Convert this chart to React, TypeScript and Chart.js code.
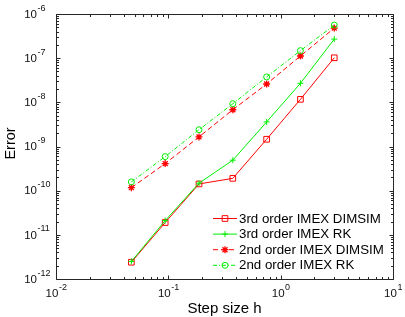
import React, { useEffect, useRef } from "react";
import { Chart, registerables } from "chart.js";
import { drawPoint } from "chart.js/helpers";

Chart.register(...registerables);

// ---- data ----
const stepSizes = [0.046875, 0.09375, 0.1875, 0.375, 0.75, 1.5, 3];
const dimsim3 = [2.4e-12, 1.9e-11, 1.42e-10, 1.9e-10, 1.46e-9, 1.17e-8, 1.02e-7];
const rk3 = [2.5e-12, 2.1e-11, 1.48e-10, 4.9e-10, 3.6e-9, 2.7e-8, 2.7e-7];
const dimsim2 = [1.17e-10, 4.1e-10, 1.65e-9, 6.8e-9, 2.6e-8, 1.12e-7, 4.8e-7];
const rk2 = [1.58e-10, 5.9e-10, 2.4e-9, 9.3e-9, 3.76e-8, 1.48e-7, 5.6e-7];
const seriesLabels = [
  "3rd order IMEX DIMSIM",
  "3rd order IMEX RK",
  "2nd order IMEX DIMSIM",
  "2nd order IMEX RK",
];
const xDecades = [-2, -1, 0, 1];
const yDecades = [-12, -11, -10, -9, -8, -7, -6];
const xTitle = "Step size h";
const yTitle = "Error";

const FONT = '"Liberation Sans", Arial, Helvetica, sans-serif';
const RED = "#ff0000";
const GREEN = "#00ee00";
const AXIS = "#262626";

const toPoints = (ys: number[]) => stepSizes.map((x, i) => ({ x, y: ys[i] }));

const framePlugin = {
  id: "matlabFrame",
  afterDraw(chart: any) {
    const ctx: CanvasRenderingContext2D = chart.ctx;
    const { left, right, top, bottom } = chart.chartArea;
    const xs = chart.scales.x;
    const ys = chart.scales.y;
    const L = Math.round(left) + 0.5;
    const R = Math.round(right) + 0.5;
    const T = Math.round(top) + 0.5;
    const B = Math.round(bottom) + 0.5;
    ctx.save();
    ctx.strokeStyle = AXIS;
    ctx.lineWidth = 1;
    ctx.setLineDash([]);
    ctx.beginPath();
    ctx.rect(L, T, R - L, B - T);
    const majorLen = 4;
    const minorLen = 2.5;
    const xMax = Math.pow(10, xDecades[xDecades.length - 1]);
    for (let d = xDecades[0]; d <= xDecades[xDecades.length - 1]; d++) {
      for (let m = 1; m <= 9; m++) {
        const v = m * Math.pow(10, d);
        if (v > xMax * 1.0001) break;
        const px = Math.round(xs.getPixelForValue(v)) + 0.5;
        const len = m === 1 ? majorLen : minorLen;
        ctx.moveTo(px, B);
        ctx.lineTo(px, B - len);
        ctx.moveTo(px, T);
        ctx.lineTo(px, T + len);
      }
    }
    const yMax = Math.pow(10, yDecades[yDecades.length - 1]);
    for (let d = yDecades[0]; d <= yDecades[yDecades.length - 1]; d++) {
      for (let m = 1; m <= 9; m++) {
        const v = m * Math.pow(10, d);
        if (v > yMax * 1.0001) break;
        const py = Math.round(ys.getPixelForValue(v)) + 0.5;
        const len = m === 1 ? majorLen : minorLen;
        ctx.moveTo(L, py);
        ctx.lineTo(L + len, py);
        ctx.moveTo(R, py);
        ctx.lineTo(R - len, py);
      }
    }
    ctx.stroke();

    // tick labels
    ctx.fillStyle = "#111";
    const baseFont = `11.5px ${FONT}`;
    const expFont = `9px ${FONT}`;
    ctx.font = baseFont;
    const bw = ctx.measureText("10").width;
    // y labels
    yDecades.forEach((d) => {
      const py = ys.getPixelForValue(Math.pow(10, d));
      const bx = left - 19;
      ctx.font = baseFont;
      ctx.textAlign = "right";
      ctx.textBaseline = "middle";
      ctx.fillText("10", bx, py + 0.5);
      ctx.font = expFont;
      ctx.textAlign = "left";
      ctx.textBaseline = "alphabetic";
      ctx.fillText(String(d), bx + 0.5, py - 3.5);
    });
    // x labels
    xDecades.forEach((d) => {
      const px = xs.getPixelForValue(Math.pow(10, d));
      ctx.font = expFont;
      const ew = ctx.measureText(String(d)).width;
      const sx = px - (bw + ew) / 2;
      const cy = bottom + 15;
      ctx.font = baseFont;
      ctx.textAlign = "left";
      ctx.textBaseline = "middle";
      ctx.fillText("10", sx, cy);
      ctx.font = expFont;
      ctx.textBaseline = "alphabetic";
      ctx.fillText(String(d), sx + bw + 0.5, cy - 4);
    });

    // axis titles
    ctx.fillStyle = "#000";
    ctx.font = `15px ${FONT}`;
    ctx.textAlign = "center";
    ctx.textBaseline = "alphabetic";
    ctx.fillText(xTitle, (left + right) / 2, bottom + 34);
    ctx.save();
    ctx.translate(15, (top + bottom) / 2 - 3);
    ctx.rotate(-Math.PI / 2);
    ctx.font = `14.5px ${FONT}`;
    ctx.fillText(yTitle, 0, 0);
    ctx.restore();

    // legend
    const lx0 = 213;
    const lx1 = 237;
    const rowY0 = 218.5;
    const rowH = 15.6;
    chart.data.datasets.forEach((ds: any, i: number) => {
      const y = rowY0 + i * rowH;
      ctx.save();
      ctx.strokeStyle = ds.borderColor;
      ctx.lineWidth = ds.borderWidth;
      ctx.setLineDash(ds.borderDash || []);
      ctx.beginPath();
      ctx.moveTo(lx0, y);
      ctx.lineTo(lx1, y);
      ctx.stroke();
      ctx.setLineDash([]);
      ctx.strokeStyle = ds.pointBorderColor;
      ctx.fillStyle = ds.pointBackgroundColor;
      ctx.lineWidth = ds.pointBorderWidth;
      drawPoint(
        ctx,
        { pointStyle: ds.pointStyle, radius: ds.pointRadius, rotation: 0, borderWidth: ds.pointBorderWidth },
        (lx0 + lx1) / 2,
        y
      );
      ctx.restore();
      ctx.fillStyle = "#000";
      ctx.font = `13.3px ${FONT}`;
      ctx.textAlign = "left";
      ctx.textBaseline = "middle";
      ctx.fillText(seriesLabels[i], lx1 + 2, y + 0.5);
    });
    ctx.restore();
  },
};

export default function App() {
  const canvasRef = useRef<HTMLCanvasElement | null>(null);

  useEffect(() => {
    if (!canvasRef.current) return;
    const common = { borderWidth: 1, pointBorderWidth: 1, tension: 0, fill: false };
    const chart = new Chart(canvasRef.current, {
      type: "line",
      data: {
        datasets: [
          {
            ...common,
            label: seriesLabels[0],
            data: toPoints(dimsim3),
            borderColor: RED,
            pointStyle: "rect",
            pointRadius: 4,
            pointBorderColor: RED,
            pointBackgroundColor: "rgba(0,0,0,0)",
            order: 3,
          },
          {
            ...common,
            label: seriesLabels[1],
            data: toPoints(rk3),
            borderColor: GREEN,
            pointStyle: "cross",
            pointRadius: 3,
            pointBorderColor: GREEN,
            pointBackgroundColor: "rgba(0,0,0,0)",
            order: 2,
          },
          {
            ...common,
            label: seriesLabels[2],
            data: toPoints(dimsim2),
            borderColor: RED,
            borderDash: [5, 3],
            pointStyle: "star",
            pointRadius: 3.5,
            pointBorderWidth: 1.3,
            pointBorderColor: RED,
            pointBackgroundColor: RED,
            order: 1,
          },
          {
            ...common,
            label: seriesLabels[3],
            data: toPoints(rk2),
            borderColor: GREEN,
            borderDash: [4, 2, 1, 2],
            pointStyle: "circle",
            pointRadius: 3,
            pointBorderColor: GREEN,
            pointBackgroundColor: "rgba(0,0,0,0)",
            order: 0,
          },
        ],
      } as any,
      options: {
        animation: false,
        responsive: false,
        events: [],
        layout: { padding: { top: 14, right: 12, left: 0, bottom: 0 } },
        plugins: { legend: { display: false }, tooltip: { enabled: false } },
        scales: {
          x: {
            type: "logarithmic",
            min: Math.pow(10, xDecades[0]),
            max: Math.pow(10, xDecades[xDecades.length - 1]),
            ticks: { display: false },
            grid: { display: false },
            border: { display: false },
            afterFit: (s: any) => {
              s.height = 38;
            },
          },
          y: {
            type: "logarithmic",
            min: Math.pow(10, yDecades[0]),
            max: Math.pow(10, yDecades[yDecades.length - 1]),
            ticks: { display: false },
            grid: { display: false },
            border: { display: false },
            afterFit: (s: any) => {
              s.width = 56;
            },
          },
        },
      } as any,
      plugins: [framePlugin],
    });
    return () => chart.destroy();
  }, []);

  return (
    <div style={{ position: "absolute", left: 0, top: 0, width: 405, height: 317, background: "#fff" }}>
      <canvas ref={canvasRef} width={405} height={317} style={{ display: "block" }} />
    </div>
  );
}
